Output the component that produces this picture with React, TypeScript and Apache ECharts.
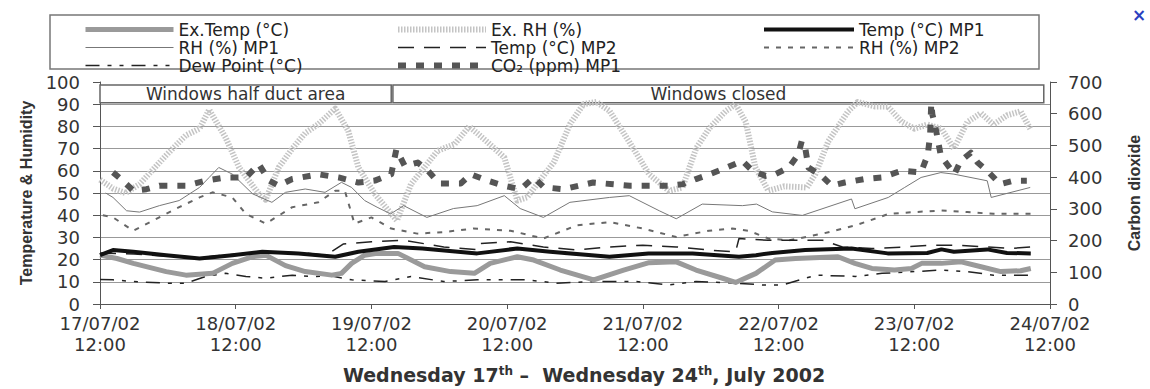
import React, { useEffect, useRef } from "react";
import * as echarts from "echarts";

// x values are hours after 17/07/02 12:00
const tickLabels = [
  "17/07/02\n12:00",
  "18/07/02\n12:00",
  "19/07/02\n12:00",
  "20/07/02\n12:00",
  "21/07/02\n12:00",
  "22/07/02\n12:00",
  "23/07/02\n12:00",
  "24/07/02\n12:00",
];

const exTemp: [number, number][] = [
  [0, 22], [3, 20.5], [5.9, 18.3], [11.7, 14.6], [15.2, 13], [19.9, 13.8], [23.4, 18.3], [27, 21.3],
  [29.3, 22], [32.8, 17.3], [36.3, 14.6], [41, 13], [42.7, 13.8], [44.5, 18.3], [46.8, 22], [49, 22.8],
  [52.7, 22.8], [57.4, 16.8], [62, 14.6], [66.2, 13.8], [69, 18.3], [73.8, 21.3], [76.7, 19.8],
  [81.4, 15.3], [87.3, 10.9], [92.6, 15.3], [97.1, 18.6], [101.9, 19], [105.4, 15.3], [110.1, 11.6],
  [112.4, 9.7], [116, 13.8], [119.4, 19.8], [123, 20.5], [130.5, 21.3], [133.5, 18.3], [136.5, 16],
  [140.5, 15.3], [143.5, 16], [145.3, 18.3], [148.8, 18.3], [152.3, 19], [155.8, 16.8], [159.3, 14.6],
  [162.8, 15], [164.6, 16],
];

const exRH: [number, number][] = [
  [0, 56], [2.3, 52], [4.5, 50], [7, 54], [11.7, 67], [15.2, 76], [17.6, 79], [19.3, 87.5], [22.2, 75],
  [24.6, 61.5], [28.1, 49.6], [29.3, 47], [31.6, 61.5], [34, 70], [36.3, 77], [38.6, 81], [41.6, 88],
  [43.9, 78], [45.7, 61.5], [48.6, 49.6], [51.5, 40.6], [52.5, 37.6], [55, 54], [59.7, 69], [62.7, 72],
  [65.3, 80], [68.5, 73], [71.5, 66], [73.8, 46.6], [75.5, 48], [77.3, 54], [80.3, 64], [83.1, 81],
  [85.5, 90], [87.8, 91], [90.1, 87], [93.6, 73], [97.1, 58.5], [100.6, 51], [103, 52.5], [105.4, 70],
  [107.7, 79], [110.7, 87], [112.4, 90], [114.2, 82], [115.9, 61.5], [118.2, 51], [121, 53], [125, 52.5],
  [126.5, 58.5], [128.8, 73.3], [132.3, 86.8], [134, 91], [137, 89], [139.3, 89], [141.8, 82], [144, 79],
  [146.3, 80.8], [148.8, 79], [151, 70], [153.4, 82], [155.8, 86], [158, 80.8], [160.4, 85],
  [162.8, 86.8], [164.6, 78.5],
];

const tempMP1: [number, number][] = [
  [0, 22], [2.3, 24.3], [5.9, 23.5], [11.7, 22], [17.6, 20.5], [23.4, 22], [28.7, 23.5], [35.1, 22.8],
  [41.6, 21.3], [45.7, 23.5], [52, 25.7], [57, 25], [66.7, 22.8], [73.8, 25], [79.6, 23.5], [90.1, 21.3],
  [97, 22.8], [104.8, 22.8], [113, 21.3], [116, 22], [118.9, 23], [124.7, 24.3], [132.9, 25], [139.3, 22.8],
  [146.3, 23], [148.8, 24.6], [151, 23.5], [156.9, 24.6], [160.4, 23], [164.6, 22.8],
];

const rhMP1: [number, number][] = [
  [1, 50], [2.3, 48], [4.7, 42], [7, 41.4], [10.5, 44.3], [14, 46.6], [17.6, 52.5], [19.3, 57], [21, 61.5],
  [23.4, 58.5], [27, 49.6], [30.4, 45.8], [32.8, 50.3], [36.3, 51.8], [39.8, 50.3], [42.7, 54.8],
  [44.5, 52.5], [46.8, 46.6], [49, 43.6], [51.4, 40.6], [53.7, 44.3], [57.8, 39], [62.5, 43], [66.7, 44.3],
  [71.5, 48.8], [74.3, 43], [78.4, 39], [83.1, 45.8], [90.1, 48], [93.6, 48.8], [98.9, 42], [101.9, 38.4],
  [106.5, 45], [113.6, 44.3], [116.1, 45], [118.9, 41.5], [124.2, 39.9], [132.9, 47.3], [133.5, 42.9],
  [139.4, 48], [142.3, 52.5], [145.2, 57], [148.7, 59.2], [151, 58.5], [156.9, 55.5], [157.6, 48],
  [164.5, 52.5],
];

const tempMP2: [number, number][] = [
  [0, 23], [6, 22.5], [12, 21.5], [18, 21], [24, 22.5], [30, 23.5], [36, 23], [40, 22], [43, 27], [48, 28],
  [53.7, 28.7], [60.8, 25.7], [66.5, 24.5], [66.8, 27.2], [72.6, 28], [78.4, 25.7], [84.3, 24.3],
  [90.1, 25.7], [96, 26.5], [101.9, 25.7], [107.7, 24.3], [112.4, 23.5], [113, 29.5], [118.2, 28.7],
  [121.9, 28.7], [127.8, 28.7], [131.3, 25.7], [136.5, 25], [142.4, 25.7], [147, 26.5], [151, 26.5],
  [156.9, 25.7], [161, 25], [164.6, 25.7],
];

const rhMP2: [number, number][] = [
  [0.5, 40], [2.3, 39], [5.9, 33], [9.4, 37.6], [14, 43.6], [17.6, 48], [19.9, 50.3], [23.4, 48],
  [25.8, 40.6], [29.3, 36.2], [34, 43.6], [38.6, 45.8], [41.6, 51], [43.3, 51], [45, 36.2], [48, 39],
  [51.5, 34], [56.1, 31.7], [60.8, 32.4], [66, 34], [72.6, 33], [78.4, 29.5], [84.3, 35.4], [90.1, 36.9],
  [96, 34], [101.9, 30.2], [107.7, 33], [111.8, 34], [114.7, 33], [118.2, 29.5], [121.9, 28.7],
  [127.8, 31.7], [133.6, 35.4], [139.5, 40.6], [144, 41.4], [148.8, 42.1], [153.4, 41.4], [158, 40.6],
  [164.6, 40.6],
];

const dewPoint: [number, number][] = [
  [0, 11], [2.3, 10.9], [5.9, 10.1], [11.7, 9.4], [15.2, 9.4], [18.7, 12.4], [22.2, 13.8], [25.8, 12.4],
  [29.3, 11.6], [34, 13], [37.5, 12.4], [41, 12.6], [44.5, 10.9], [50.4, 10.1], [55, 12.4], [60.8, 10.1],
  [66.7, 10.9], [75.5, 10.9], [80.7, 9.4], [87.1, 10.1], [94.8, 10.1], [100.6, 8.6], [105.4, 10.1],
  [112.4, 9.4], [117.1, 8.6], [120.8, 8.6], [126.6, 13], [133.6, 12.4], [138.3, 13.8], [144.1, 14.6],
  [148.8, 15.3], [153.4, 14.6], [158, 13], [164.6, 13],
];

const co2: [number, number][] = [
  [2.3, 415], [4, 389], [5.9, 357], [8.2, 362], [10.5, 373], [15.2, 373], [18.7, 389], [22.2, 399],
  [25.8, 399], [28.1, 441], [29.9, 389], [31.6, 373], [34, 394], [38.6, 409], [42.2, 399], [45.7, 383],
  [48.6, 389], [51.5, 409], [52.4, 487], [53.9, 435], [56.2, 446], [58, 420], [60, 380], [63.8, 380],
  [65.6, 409], [68.5, 389], [71.4, 373], [74.4, 362], [76.7, 399], [78.5, 368], [82, 362], [87.2, 383],
  [93.7, 373], [100.7, 373], [103.1, 378], [105.4, 394], [107.8, 409], [110.1, 425], [113.6, 451],
  [115.4, 420], [117.7, 404], [119.5, 410], [121.8, 430], [123.5, 472], [124.1, 514], [124.7, 493],
  [125.3, 430], [127.6, 404], [129.4, 373], [131.7, 383], [135.2, 394], [138.2, 399], [141.7, 420],
  [145.2, 415], [146.4, 472], [146.8, 534], [147, 633], [147.2, 597], [147.6, 571], [148.1, 524],
  [148.7, 467], [151.1, 409], [152.2, 451], [154, 477], [155.2, 446], [156.9, 420], [159.2, 378],
  [161.6, 389], [163.9, 389],
];

const periods = [
  { label: "Windows half duct area", start: 0, end: 51.5 },
  { label: "Windows closed", start: 51.8, end: 166.9 },
];

type Sty = { name: string; color: string; width: number; type: any; z: number; axis: number };

const STYLES: Record<string, Sty> = {
  exTemp: { name: "Ex.Temp (°C)", color: "#9a9a9a", width: 5, type: "solid", z: 5, axis: 0 },
  exRH: { name: "Ex. RH (%)", color: "#c4c4c4", width: 6, type: [1.5, 1.5], z: 1, axis: 0 },
  tmp1: { name: "Temp (°C) MP1", color: "#111", width: 4, type: "solid", z: 6, axis: 0 },
  rh1: { name: "RH (%) MP1", color: "#777", width: 1, type: "solid", z: 2, axis: 0 },
  tmp2: { name: "Temp (°C) MP2", color: "#222", width: 1.5, type: [16, 10], z: 4, axis: 0 },
  rh2: { name: "RH (%) MP2", color: "#666", width: 2, type: [5, 7], z: 2, axis: 0 },
  dew: { name: "Dew Point (°C)", color: "#222", width: 1.5, type: [14, 8, 4, 8, 4, 8], z: 4, axis: 0 },
  co2: { name: "CO₂ (ppm) MP1", color: "#555", width: 6, type: [8, 10], z: 3, axis: 1 },
};

const FONT = "DejaVu Sans";
const TXT = "#333";

function line(s: Sty, data: [number, number][], extra: any = {}) {
  return {
    type: "line",
    name: s.name,
    data,
    yAxisIndex: s.axis,
    symbol: "none",
    showSymbol: false,
    silent: true,
    z: s.z,
    lineStyle: { color: s.color, width: s.width, type: s.type, cap: "butt", join: "round" },
    itemStyle: { color: s.color },
    ...extra,
  };
}

function legendItem(s: Sty) {
  return {
    name: s.name,
    itemStyle: { opacity: 0 },
    lineStyle: { color: s.color, width: s.width, type: s.type, cap: "butt", opacity: 1 },
  };
}

export default function App() {
  const ref = useRef<HTMLDivElement>(null);
  useEffect(() => {
    if (!ref.current) return;
    const chart = echarts.init(ref.current, undefined, { renderer: "svg" });
    const legendBase = {
      orient: "vertical",
      top: 16,
      itemWidth: 88,
      itemHeight: 12,
      itemGap: 1,
      selectedMode: false,
      textStyle: { fontFamily: FONT, fontSize: 17, lineHeight: 15, color: "#222" },
    };
    chart.setOption({
      animation: false,
      backgroundColor: "#fff",
      grid: { left: 100, right: 96, top: 82, bottom: 83 },
      legend: [
        { ...legendBase, left: 78, data: [STYLES.exTemp, STYLES.rh1, STYLES.dew].map(legendItem) },
        { ...legendBase, left: 390, data: [STYLES.exRH, STYLES.tmp2, STYLES.co2].map(legendItem) },
        { ...legendBase, left: 757, itemWidth: 90, data: [STYLES.tmp1, STYLES.rh2].map(legendItem) },
      ],
      graphic: [
        {
          type: "rect",
          shape: { x: 50, y: 15, width: 989, height: 54 },
          style: { fill: "none", stroke: "#777", lineWidth: 1.5 },
          silent: true,
        },
        {
          type: "text",
          x: 1132,
          y: 6,
          style: { text: "×", fill: "#2a3fc0", font: "bold 17px DejaVu Sans" },
          silent: true,
        },
      ],
      xAxis: {
        type: "value",
        min: 0,
        max: 168,
        interval: 24,
        name: "Wednesday 17{sup|th} –  Wednesday 24{sup|th}, July 2002",
        nameLocation: "middle",
        nameGap: 61,
        nameTextStyle: {
          fontFamily: FONT,
          fontWeight: "bold",
          fontSize: 19,
          color: TXT,
          padding: [0, 0, 0, 18],
          rich: {
            sup: { fontFamily: FONT, fontWeight: "bold", fontSize: 12, color: TXT, verticalAlign: "top", padding: [0, 0, 7, 0] },
          },
        },
        axisLine: { lineStyle: { color: "#555", width: 1 } },
        axisTick: { show: true, length: 5, lineStyle: { color: "#555" } },
        splitLine: { show: false },
        axisLabel: {
          formatter: (v: number) => tickLabels[Math.round(v / 24)] ?? "",
          fontFamily: FONT,
          fontSize: 18,
          lineHeight: 21,
          color: TXT,
          margin: 9,
        },
      },
      yAxis: [
        {
          type: "value",
          min: 0,
          max: 100,
          interval: 10,
          name: "Temperature & Humidity",
          nameLocation: "middle",
          nameGap: 66,
          nameTextStyle: { fontFamily: "Liberation Sans Narrow, Liberation Sans", fontWeight: "bold", fontSize: 16, color: TXT },
          axisLine: { show: true, lineStyle: { color: "#555", width: 1 } },
          axisTick: { show: true, length: 7, lineStyle: { color: "#555" } },
          splitLine: { show: true, showMaxLine: false, lineStyle: { color: "#999", width: 1 } },
          axisLabel: { fontFamily: FONT, fontSize: 18, lineHeight: 14, color: TXT, margin: 20 },
        },
        {
          type: "value",
          min: 0,
          max: 700,
          interval: 100,
          position: "right",
          name: "Carbon dioxide",
          nameLocation: "middle",
          nameGap: 76,
          nameTextStyle: { fontFamily: "Liberation Sans Narrow, Liberation Sans", fontWeight: "bold", fontSize: 16, color: TXT },
          axisLine: { show: true, lineStyle: { color: "#555", width: 1 } },
          axisTick: { show: true, length: 7, lineStyle: { color: "#555" } },
          splitLine: { show: false },
          axisLabel: { fontFamily: FONT, fontSize: 18, lineHeight: 14, color: TXT, margin: 18 },
        },
      ],
      series: [
        line(STYLES.exRH, exRH),
        line(STYLES.rh1, rhMP1),
        line(STYLES.rh2, rhMP2),
        line(STYLES.co2, co2),
        line(STYLES.tmp2, tempMP2),
        line(STYLES.dew, dewPoint),
        line(STYLES.exTemp, exTemp, {
          markArea: {
            silent: true,
            itemStyle: { color: "rgba(255,255,255,1)", borderColor: "#666", borderWidth: 1.5 },
            label: { show: true, position: "inside", fontFamily: FONT, fontSize: 17, color: TXT },
            data: periods.map((p) => [
              { name: p.label, xAxis: p.start, yAxis: 90.6 },
              { xAxis: p.end, yAxis: 98.7 },
            ]),
          },
        }),
        line(STYLES.tmp1, tempMP1),
      ],
    });
    return () => chart.dispose();
  }, []);
  return (
    <div
      ref={ref}
      style={{ position: "fixed", left: 0, top: 0, width: 1150, height: 389, background: "#fff" }}
    />
  );
}
